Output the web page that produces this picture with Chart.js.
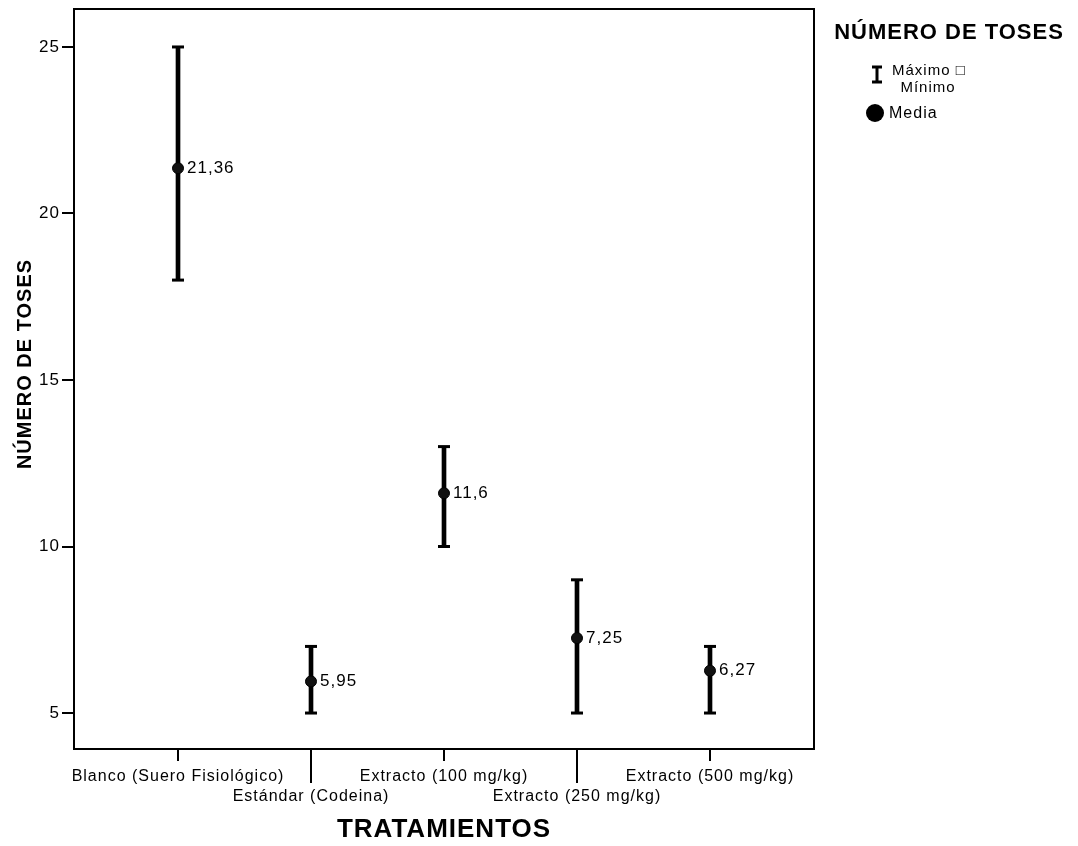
<!DOCTYPE html>
<html>
<head>
<meta charset="utf-8">
<script src="https://cdn.jsdelivr.net/npm/chart.js@4.4.1/dist/chart.umd.min.js"></script>
<style>
  html, body { margin:0; padding:0; background:#fff; }
  canvas { display:block; }
</style>
</head>
<body>
<canvas id="chart" width="1078" height="846"></canvas>
<script>
// Número de toses por tratamiento: máximo, mínimo y media
const categorias = ['Blanco (Suero Fisiológico)', 'Estándar (Codeina)', 'Extracto (100 mg/kg)', 'Extracto (250 mg/kg)', 'Extracto (500 mg/kg)'];
const maximos = [25, 7, 13, 9, 7];
const minimos = [18, 5, 10, 5, 5];
const medias = [21.36, 5.95, 11.6, 7.25, 6.27];
const etiquetasMedia = ['21,36', '5,95', '11,6', '7,25', '6,27'];
const yTicks = [5, 10, 15, 20, 25];

Chart.defaults.font.family = "'Liberation Sans', Arial, sans-serif";
Chart.defaults.color = '#000';

const FONT = "'Liberation Sans', Arial, sans-serif";

const extrasPlugin = {
  id: 'extras',
  beforeDraw(chart) {
    chart.ctx.letterSpacing = '1px';
  },
  afterDatasetsDraw(chart) {
    const { ctx, scales: { x, y } } = chart;
    ctx.save();
    ctx.fillStyle = '#000';
    ctx.font = '17px ' + FONT;
    ctx.textAlign = 'left';
    ctx.textBaseline = 'middle';
    medias.forEach((m, i) => {
      ctx.fillText(etiquetasMedia[i], x.getPixelForValue(i) + 9, y.getPixelForValue(m));
    });
    ctx.restore();
  },
  afterDraw(chart) {
    const { ctx, chartArea: a, scales: { x } } = chart;
    ctx.save();
    // marco del gráfico
    ctx.strokeStyle = '#000';
    ctx.lineWidth = 2;
    ctx.strokeRect(a.left, a.top, a.right - a.left, a.bottom - a.top);
    // marcas largas para las etiquetas de la segunda fila
    categorias.forEach((c, i) => {
      if (i % 2 === 1) {
        const px = Math.round(x.getPixelForValue(i));
        ctx.beginPath();
        ctx.moveTo(px, a.bottom);
        ctx.lineTo(px, a.bottom + 34);
        ctx.stroke();
      }
    });

    // título del eje Y
    ctx.fillStyle = '#000';
    ctx.save();
    ctx.translate(25, 364);
    ctx.rotate(-Math.PI / 2);
    ctx.font = 'bold 20px ' + FONT;
    ctx.textAlign = 'center';
    ctx.textBaseline = 'middle';
    ctx.fillText('NÚMERO DE TOSES', 0, 0);
    ctx.restore();

    // leyenda
    ctx.textBaseline = 'middle';
    ctx.textAlign = 'center';
    ctx.font = 'bold 22px ' + FONT;
    ctx.fillText('NÚMERO DE TOSES', 949, 33);

    ctx.lineWidth = 3;
    ctx.beginPath();
    ctx.moveTo(877, 66); ctx.lineTo(877, 83);
    ctx.moveTo(872, 67); ctx.lineTo(882, 67);
    ctx.moveTo(872, 82); ctx.lineTo(882, 82);
    ctx.stroke();

    ctx.font = '15px ' + FONT;
    ctx.textAlign = 'left';
    ctx.fillText('Máximo \u25A1', 892, 71);
    ctx.textAlign = 'center';
    ctx.fillText('Mínimo', 928, 88);

    ctx.beginPath();
    ctx.arc(875, 113, 9, 0, Math.PI * 2);
    ctx.fill();
    ctx.font = '16px ' + FONT;
    ctx.textAlign = 'left';
    ctx.fillText('Media', 889, 114);
    ctx.restore();
  }
};

const barras = categorias.map((c, i) => ({ x: i, y: [minimos[i], maximos[i]] }));
const puntosMax = maximos.map((v, i) => ({ x: i, y: v }));
const puntosMin = minimos.map((v, i) => ({ x: i, y: v }));
const puntosMedia = medias.map((v, i) => ({ x: i, y: v }));

new Chart(document.getElementById('chart'), {
  type: 'bar',
  data: {
    datasets: [
      { type: 'bar', label: 'rango', data: barras, backgroundColor: '#000', barThickness: 4, grouped: false, order: 3 },
      { type: 'scatter', label: 'Máximo', data: puntosMax, pointStyle: 'line', pointRadius: 6, borderWidth: 3, borderColor: '#000', order: 2 },
      { type: 'scatter', label: 'Mínimo', data: puntosMin, pointStyle: 'line', pointRadius: 6, borderWidth: 3, borderColor: '#000', order: 2 },
      { type: 'scatter', label: 'Media', data: puntosMedia, pointStyle: 'circle', pointRadius: 5.5, backgroundColor: '#111', borderColor: '#000', borderWidth: 1, order: 1 }
    ]
  },
  options: {
    responsive: false,
    animation: false,
    layout: { padding: { top: 7, right: 264, left: 0, bottom: 0 } },
    plugins: { legend: { display: false }, tooltip: { enabled: false } },
    scales: {
      x: {
        type: 'linear',
        offset: false,
        min: -0.782,
        max: 4.782,
        afterBuildTicks: s => { s.ticks = categorias.map((c, i) => ({ value: i })); },
        afterFit: s => { s.height = 97; s.paddingLeft = 0; s.paddingRight = 0; },
        ticks: {
          autoSkip: false,
          maxRotation: 0,
          padding: 6,
          font: { size: 16, lineHeight: 1.25 },
          callback: v => (v % 2 === 1 ? ['', categorias[v]] : categorias[v])
        },
        grid: { offset: false, drawOnChartArea: false, drawTicks: true, tickLength: 12, color: '#000', lineWidth: 2 },
        border: { color: '#000', width: 2 },
        title: { display: true, text: 'TRATAMIENTOS', font: { size: 26, weight: 'bold' }, padding: { top: 0, bottom: 1 } }
      },
      y: {
        min: 3.92,
        max: 26.14,
        afterBuildTicks: s => { s.ticks = yTicks.map(v => ({ value: v })); },
        afterFit: s => { s.width = 74; s.paddingTop = 0; s.paddingBottom = 0; },
        ticks: { padding: 2, font: { size: 17 } },
        grid: { drawOnChartArea: false, drawTicks: true, tickLength: 12, color: '#000', lineWidth: 2 },
        border: { color: '#000', width: 2 },
        title: { display: false }
      }
    }
  },
  plugins: [extrasPlugin]
});
</script>
</body>
</html>
